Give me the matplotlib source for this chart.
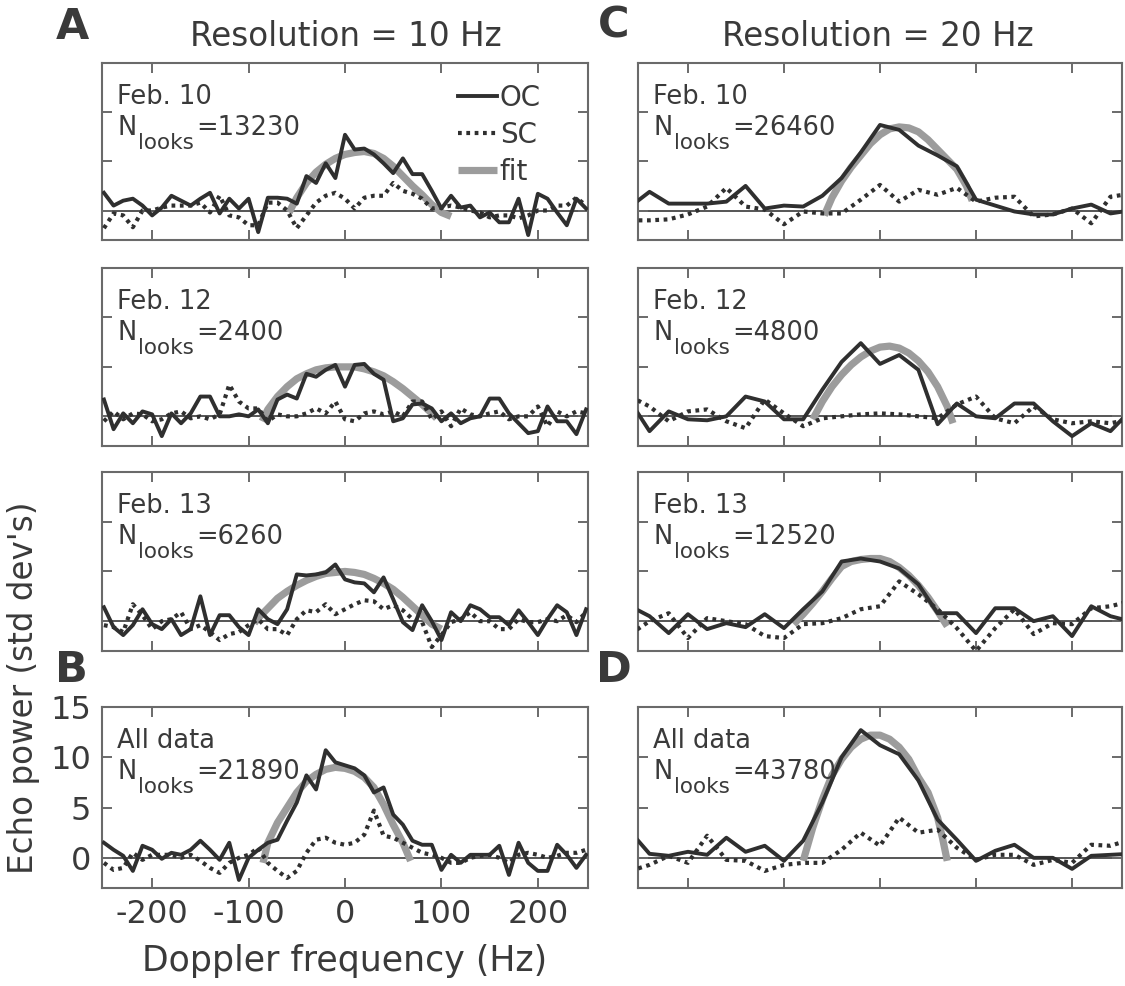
import numpy as np
import matplotlib
matplotlib.use("Agg")
import matplotlib.pyplot as plt
from matplotlib.lines import Line2D

plt.rcParams['font.family'] = ['DejaVu Sans']
plt.rcParams['axes.unicode_minus'] = False

# ---------------- data ----------------
freq10 = np.arange(-250, 251, 10)
freq20 = np.arange(-260, 261, 20)

# Column A / B : 10 Hz resolution
a1_oc = [1.8, 0.5, 1.0, 1.2, 0.5, -0.5, 0.3, 1.5, 1.0, 0.5, 1.2, 1.8, -0.3, 1.2, 0.2, 1.2, -2.2,
         1.3, 1.3, 1.2, 0.7, 3.5, 2.8, 4.8, 3.3, 7.7, 6.2, 6.3, 5.7, 4.8, 3.8, 5.3, 3.7, 3.7,
         2.0, 0.2, 1.5, 0.3, 0.5, -0.7, -0.2, -1.2, -1.2, 1.2, -2.5, 1.7, 1.2, -0.2, -1.5, 1.2, 0.2]
a1_sc = [-1.8, -0.3, -0.5, -1.7, 0.0, 0.0, 0.3, 0.5, 0.5, 0.5, 0.8, -0.2, 1.5, -0.5, -0.7, -1.5,
         -1.5, 0.8, 0.8, 0.0, -1.8, -0.5, 0.8, 1.5, 1.8, 1.2, 0.2, 1.3, 1.5, 1.5, 2.8, 2.0, 1.7,
         1.2, 0.2, 0.3, 0.5, 0.3, 0.0, -0.2, -0.7, -0.5, -0.5, -0.8, -0.5, 0.0, 0.0, 0.5, 0.5, 1.3, 0.5]
a1_fit_x = [-58, -50, -40, -30, -20, -10, 0, 10, 20, 30, 40, 50, 60, 70, 80, 90, 100, 110]
a1_fit_y = [-0.2, 1.3, 2.8, 3.9, 4.7, 5.3, 5.7, 5.9, 6.0, 5.8, 5.3, 4.5, 3.5, 2.5, 1.6, 0.6, -0.2, -0.6]

a2_oc = [1.7, -1.3, 0.3, -0.7, 0.5, 0.2, -2.0, 0.3, -0.7, 0.3, 2.0, 2.0, 0.0, 0.0, 0.2, 0.0, 0.7,
         -0.7, 1.7, 2.2, 1.8, 4.3, 4.0, 4.7, 5.2, 3.0, 5.2, 5.3, 4.3, 3.7, -0.5, -0.2, 1.2, 1.3,
         0.8, -0.5, 0.3, -0.7, -0.2, 0.0, 1.8, 1.8, 0.3, -0.7, -1.7, -1.5, 1.0, -0.5, -0.5, -1.8, 0.7]
a2_sc = [-0.5, 0.5, -0.3, 0.3, 0.2, -0.5, -0.3, 0.3, 0.5, -0.2, 0.0, -0.3, 0.2, 3.2, 1.5, 0.8,
         0.8, -0.5, 0.2, 0.0, 0.0, 0.3, 0.8, 0.3, 1.5, -0.3, -0.5, 0.3, 0.5, 0.2, 0.5, 0.0, 1.5,
         1.5, -0.3, 0.5, -1.0, 0.8, 0.2, 0.0, 0.3, 0.5, -0.3, 0.0, 0.0, 1.0, -1.0, 0.5, 0.0, 0.5, 0.3]
a2_fit_x = [-86, -80, -70, -60, -50, -40, -30, -20, -10, 0, 10, 20, 30, 40, 50, 60, 70, 80, 90, 95]
a2_fit_y = [-0.5, 0.7, 2.0, 3.0, 3.8, 4.3, 4.7, 4.9, 5.0, 5.0, 5.0, 4.8, 4.5, 4.1, 3.5, 2.8, 2.0, 1.2, 0.3, -0.2]

a3_oc = [1.4, -0.6, -1.4, -0.4, 1.2, -0.3, -0.8, 0.2, -1.4, -0.8, 2.5, -1.4, 0.6, 0.6, -0.6,
         -1.4, 1.2, 0.2, -0.3, 1.2, 4.7, 4.6, 4.7, 4.9, 5.7, 4.2, 3.9, 3.8, 2.9, 4.4, 2.2, -0.1,
         -0.9, 1.6, 0.0, -1.9, 0.9, 0.0, 1.6, 1.2, 0.4, 0.4, -0.4, 1.1, -0.1, -1.4, 0.2, 1.6, 0.9, -1.4, 1.2]
a3_sc = [-0.4, -0.6, -1.1, 1.7, 0.6, -0.8, 0.0, 0.2, 0.9, -0.8, -0.4, -1.1, -1.9, -1.3, -1.1,
         -0.4, 0.2, -0.8, -0.8, -1.4, 0.2, 1.1, 0.9, 1.7, 0.7, 1.2, 1.7, 2.1, 2.0, 1.2, 1.6, 1.1,
         0.2, -0.1, -2.6, -1.4, -0.1, 0.2, 0.9, 0.0, 0.0, -0.8, -0.8, 0.2, -0.1, -0.1, 0.2, 0.0, 0.6, -0.1, 0.9]
a3_fit_x = [-94, -90, -80, -70, -60, -50, -40, -30, -20, -10, 0, 10, 20, 30, 40, 50, 60, 70, 80, 90, 100]
a3_fit_y = [-0.2, 0.3, 1.3, 2.3, 3.0, 3.6, 4.1, 4.5, 4.8, 4.9, 5.0, 4.9, 4.7, 4.3, 3.8, 3.2, 2.4, 1.5, 0.6, -0.3, -0.8]

b_oc = [1.5, 0.8, 0.2, -1.3, 1.2, 0.8, -0.1, 0.5, 0.3, 0.8, 1.7, 0.8, -0.2, 1.5, -2.2, 0.0, 0.8,
        1.5, 1.8, 3.7, 5.5, 8.2, 6.8, 10.7, 9.5, 9.2, 8.9, 8.2, 6.5, 7.0, 4.3, 3.3, 1.7, 1.3, 1.3,
        -1.2, 0.3, -0.5, 0.3, 0.3, 0.3, 1.2, -1.7, 1.5, -0.5, -1.3, -1.3, 1.3, 0.3, -1.0, 0.3]
b_sc = [-0.5, -1.2, -1.0, 0.5, -0.2, 0.3, 0.3, 0.3, 0.0, 0.3, -0.3, -1.0, -1.5, -0.5, 0.0, 0.3,
        1.0, -0.5, -1.3, -2.0, -1.3, 0.5, 1.8, 2.0, 1.5, 1.3, 1.5, 2.3, 4.7, 2.2, 2.0, 1.5, 1.0,
        0.5, 0.3, 0.0, -0.5, -0.5, 0.0, 0.2, 0.3, 0.0, -0.5, 0.3, 0.5, 0.3, 0.0, 0.2, 0.5, 0.5, 0.8]
b_fit_x = [-85, -80, -70, -60, -50, -40, -30, -20, -10, 0, 10, 20, 30, 40, 50, 60, 68]
b_fit_y = [-0.5, 1.5, 3.5, 5.0, 6.5, 7.6, 8.3, 8.8, 9.0, 8.9, 8.6, 8.0, 7.0, 5.3, 3.3, 1.5, -0.3]

# Column C / D : 20 Hz resolution
c1_oc = [0.4, 1.9, 0.7, 0.7, 0.7, 0.9, 2.5, 0.2, 0.5, 0.4, 1.5, 3.3, 5.9, 8.7, 8.2, 6.6, 5.6,
         4.5, 1.1, 0.5, -0.1, -0.4, -0.4, 0.2, 0.6, -0.3, 0.0]
c1_sc = [-1.0, -1.0, -0.9, -0.4, 0.4, 2.3, 0.4, 0.1, -1.4, -0.1, -0.3, -0.3, 1.1, 2.6, 0.9, 2.1,
         1.6, 2.3, 0.9, 1.3, 1.4, -0.6, -0.4, 0.2, -1.3, 1.4, 1.7]
c1_fit_x = [-58, -50, -40, -30, -20, -10, 0, 10, 20, 30, 40, 50, 60, 70, 80, 90, 96]
c1_fit_y = [-0.5, 1.3, 3.0, 4.4, 5.6, 6.8, 7.7, 8.3, 8.5, 8.4, 8.0, 7.2, 6.2, 5.2, 4.2, 2.5, 1.0]

c2_oc = [1.5, -1.5, 0.5, -0.3, -0.4, 0.0, 2.0, 1.5, -0.3, -0.3, 2.7, 5.5, 7.4, 5.3, 6.2, 4.7,
         -0.8, 1.3, 0.0, -0.2, 1.3, 1.3, -0.5, -2.0, -0.7, -1.5, 0.5]
c2_sc = [2.0, 1.0, -0.5, 0.5, 0.7, -0.5, -1.2, 1.7, 0.3, -1.0, -0.2, 0.0, 0.2, 0.3, 0.2, 0.0,
         -0.2, 1.2, 2.0, -0.2, -0.7, 1.0, -0.3, -0.7, -0.5, -0.7, -0.3]
c2_fit_x = [-70, -60, -50, -40, -30, -20, -10, 0, 10, 20, 30, 40, 50, 60, 70, 76]
c2_fit_y = [-0.3, 1.5, 3.0, 4.2, 5.2, 6.0, 6.6, 7.0, 7.1, 6.9, 6.4, 5.6, 4.5, 3.0, 1.0, -0.7]

c3_oc = [1.5, 0.5, -1.2, 0.7, -0.8, -0.2, -0.6, 0.7, -0.7, 1.2, 3.0, 6.0, 6.3, 6.0, 5.3, 3.7,
         0.8, 0.8, -1.2, 1.3, 1.3, 0.0, 0.5, -1.5, 1.5, 0.5, 0.0]
c3_sc = [-1.3, 0.0, 0.8, -1.7, 0.3, 0.0, -0.3, -1.5, -1.7, -0.3, -0.2, 0.3, 1.2, 1.5, 4.0, 2.7,
         1.2, -0.7, -3.0, -0.7, 1.2, -1.3, -0.2, -0.3, 1.3, 1.5, 2.0]
c3_fit_x = [-90, -80, -70, -60, -50, -40, -30, -20, -10, 0, 10, 20, 30, 40, 50, 60, 70]
c3_fit_y = [-0.3, 0.7, 1.8, 3.0, 4.3, 5.5, 6.0, 6.2, 6.3, 6.3, 6.0, 5.4, 4.6, 3.6, 2.4, 1.0, -0.5]

d_oc = [2.6, 0.4, 0.2, 0.6, 0.3, 2.0, 0.6, 1.2, -0.3, 1.7, 5.5, 10.0, 12.7, 11.2, 10.3, 7.7,
        3.8, 1.8, -0.3, 0.7, 1.3, 0.0, 0.0, -1.1, 0.2, 0.3, 0.4]
d_sc = [-1.3, -0.7, 0.2, -0.5, 2.2, -0.2, -0.3, -1.3, -0.7, -0.5, -0.5, 0.8, 2.5, 1.2, 4.0, 2.5,
        2.8, 1.0, -0.2, 0.3, 0.3, -0.7, -0.2, -0.5, 1.3, 1.2, 1.8]
d_fit_x = [-80, -70, -60, -50, -40, -30, -20, -10, 0, 10, 20, 30, 40, 50, 60, 65, 70]
d_fit_y = [-0.3, 3.0, 5.8, 8.2, 9.8, 11.0, 11.8, 12.2, 12.2, 11.8, 11.0, 9.8, 8.0, 6.5, 4.0, 2.0, -0.3]

labels_10 = ["Feb. 10", "Feb. 12", "Feb. 13", "All data"]
looks_10 = ["13230", "2400", "6260", "21890"]
labels_20 = ["Feb. 10", "Feb. 12", "Feb. 13", "All data"]
looks_20 = ["26460", "4800", "12520", "43780"]

xticks = [-200, -100, 0, 100, 200]
yticks = [0, 5, 10, 15]

# ---------------- styling ----------------
W, H = 1125, 986
C_DARK = '#2f2f2f'
C_FIT = '#9c9c9c'
C_ZERO = '#555555'
C_SPINE = '#6a6a6a'
C_TEXT = '#3a3a3a'
SC_STYLE = (0, (0.9, 1.1))
LW_OC, LW_SC, LW_FIT = 2.8, 3.0, 5.2
FS_IN = 18.5

fig = plt.figure(figsize=(W / 100, H / 100), dpi=100)
renderer = fig.canvas.get_renderer()


def add_ax(l, t, r, b):
    return fig.add_axes([l / W, 1 - b / H, (r - l) / W, (b - t) / H])


def nlooks(ax, x_px, base_px, value):
    """Draw N with a 'looks' subscript and '=value', positions in figure pixels."""
    y_fig = H - base_px
    t1 = fig.text(x_px / W, y_fig / H, 'N', fontsize=FS_IN, color=C_TEXT,
                  ha='left', va='baseline')
    bb = t1.get_window_extent(renderer)
    t2 = fig.text((bb.x1 + 2) / W, (y_fig - 14) / H, 'looks', fontsize=15.5,
                  color=C_TEXT, ha='left', va='baseline')
    bb2 = t2.get_window_extent(renderer)
    fig.text((bb2.x1 + 2) / W, y_fig / H, '=' + value, fontsize=FS_IN, color=C_TEXT,
             ha='left', va='baseline')


cols = [(102, 588), (638, 1122)]
rows = [(63, 240), (268, 446), (472, 651), (707, 888)]

panels = [
    [(freq10, a1_oc, a1_sc, a1_fit_x, a1_fit_y),
     (freq10, a2_oc, a2_sc, a2_fit_x, a2_fit_y),
     (freq10, a3_oc, a3_sc, a3_fit_x, a3_fit_y),
     (freq10, b_oc, b_sc, b_fit_x, b_fit_y)],
    [(freq20, c1_oc, c1_sc, c1_fit_x, c1_fit_y),
     (freq20, c2_oc, c2_sc, c2_fit_x, c2_fit_y),
     (freq20, c3_oc, c3_sc, c3_fit_x, c3_fit_y),
     (freq20, d_oc, d_sc, d_fit_x, d_fit_y)],
]
names = [labels_10, labels_20]
looks = [looks_10, looks_20]

for ci, (l, r) in enumerate(cols):
    for ri, (t, b) in enumerate(rows):
        ax = add_ax(l, t, r, b)
        fx, oc, sc, fitx, fity = panels[ci][ri]
        ax.axhline(0, color=C_ZERO, lw=1.4, zorder=1)
        ax.plot(fitx, fity, color=C_FIT, lw=LW_FIT, solid_capstyle='butt', zorder=2)
        ax.plot(fx, sc, color=C_DARK, lw=LW_SC, linestyle=SC_STYLE, zorder=3)
        ax.plot(fx, oc, color=C_DARK, lw=LW_OC, zorder=4)
        ax.set_xlim(-252, 252)
        ax.set_ylim(-3, 15)
        ax.set_xticks(xticks)
        ax.set_yticks(yticks)
        ax.tick_params(direction='in', length=7, width=1.4, color=C_SPINE,
                       top=True, right=True, labelsize=23, labelcolor=C_TEXT, pad=8)
        for s in ax.spines.values():
            s.set_color(C_SPINE)
            s.set_linewidth(1.5)
        if not (ci == 0 and ri == 3):
            ax.tick_params(labelbottom=False, labelleft=False)
        x_txt = l + 15
        fig.text(x_txt / W, 1 - (t + 41) / H, names[ci][ri], fontsize=FS_IN,
                 color=C_TEXT, va='baseline', ha='left')
        nlooks(ax, x_txt, t + 72, looks[ci][ri])
        if ci == 0 and ri == 0:
            handles = [Line2D([], [], color=C_DARK, lw=LW_OC),
                       Line2D([], [], color=C_DARK, lw=LW_SC, linestyle=SC_STYLE),
                       Line2D([], [], color=C_FIT, lw=LW_FIT, solid_capstyle='butt')]
            leg = ax.legend(handles, ['OC', 'SC', 'fit'], loc='upper right',
                            bbox_to_anchor=((541 - 102) / 486, 1 - (84 - 63) / 177),
                            frameon=False, fontsize=20, handlelength=1.4,
                            handletextpad=0.1, labelspacing=0.32, borderpad=0,
                            borderaxespad=0)
            for txt in leg.get_texts():
                txt.set_color(C_TEXT)
        if ci == 0 and ri == 3:
            ax.set_xlabel('Doppler frequency (Hz)', fontsize=25, color=C_TEXT, labelpad=10)

# titles and panel letters
fig.text(346 / W, 1 - 36 / H, 'Resolution = 10 Hz', fontsize=23.5, color=C_TEXT,
         ha='center', va='center')
fig.text(878 / W, 1 - 36 / H, 'Resolution = 20 Hz', fontsize=23.5, color=C_TEXT,
         ha='center', va='center')
for letter, (px, py) in {'A': (72, 27), 'C': (614, 26), 'B': (71, 670), 'D': (614, 670)}.items():
    fig.text(px / W, 1 - py / H, letter, fontsize=31, fontweight='bold', color=C_TEXT,
             ha='center', va='center')

fig.text(24 / W, 1 - 688 / H, "Echo power (std dev's)", rotation=90, fontsize=23.5,
         color=C_TEXT, ha='center', va='center')

fig.savefig('out.png', dpi=100)
